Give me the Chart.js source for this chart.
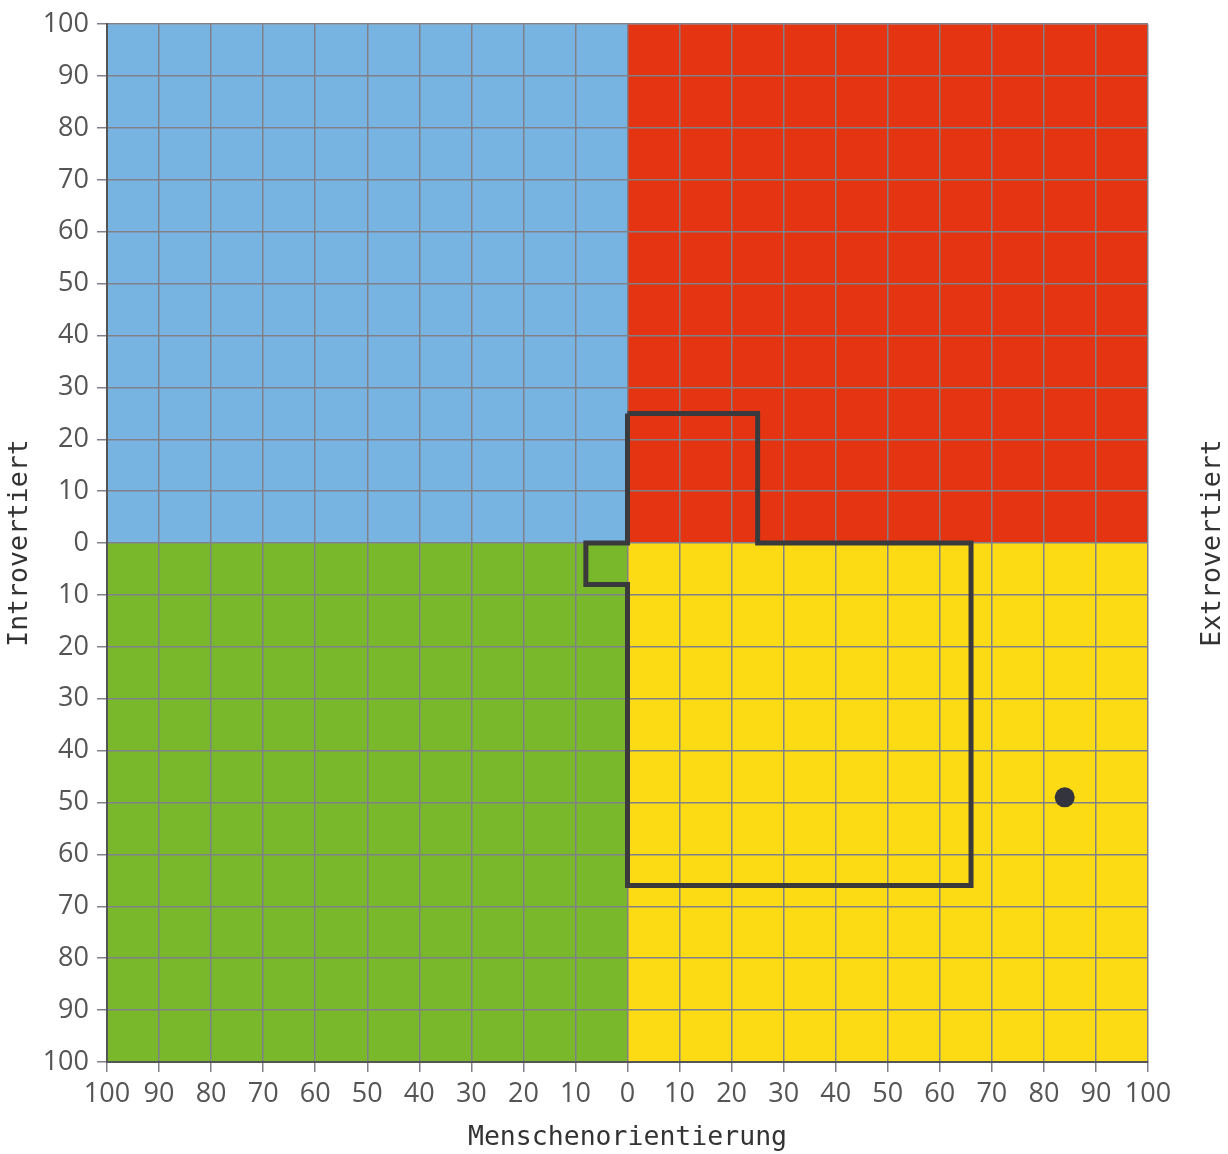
<!DOCTYPE html>
<html>
<head>
<meta charset="utf-8">
<script src="https://cdn.jsdelivr.net/npm/chart.js@4/dist/chart.umd.min.js"></script>
<style>
html,body{margin:0;padding:0;background:#fff;}
#wrap{width:1228px;height:1154px;}
</style>
</head>
<body>
<div id="wrap"><canvas id="c" width="1228" height="1154"></canvas></div>
<script>
// Axis titles
const xTitle = "Menschenorientierung";
const yTitleLeft = "Introvertiert";
const yTitleRight = "Extrovertiert";

// Quadrant backgrounds: x range, y range, colour
const quadX = [[-100, 0], [0, 100], [-100, 0], [0, 100]];
const quadY = [[0, 100], [0, 100], [-100, 0], [-100, 0]];
const quadColors = ["#78b4e2", "#e43412", "#78b82a", "#fddb14"];

// Outline polygon
const shapeX = [0, 25, 25, 66, 66, 0, 0, -8, -8, 0, 0];
const shapeY = [25, 25, 0, 0, -66, -66, -8, -8, 0, 0, 25];

// Single point
const pointX = [84];
const pointY = [-49];

const axisMin = -100, axisMax = 100, axisStep = 10;

const titleFont = "'DejaVu Sans Mono', 'Liberation Mono', monospace";
const tickFont = "'Open Sans', 'Noto Sans', sans-serif";
const tickColor = "#555555";
const gridColor = "#80808a";

const quadPlugin = {
  id: 'quads',
  beforeDraw(chart) {
    const {ctx, scales: {x, y}} = chart;
    ctx.save();
    quadColors.forEach((c, i) => {
      const x0 = x.getPixelForValue(quadX[i][0]);
      const x1 = x.getPixelForValue(quadX[i][1]);
      const y0 = y.getPixelForValue(quadY[i][1]);
      const y1 = y.getPixelForValue(quadY[i][0]);
      ctx.fillStyle = c;
      ctx.fillRect(x0, y0, x1 - x0, y1 - y0);
    });
    ctx.restore();
  },
  afterDraw(chart) {
    const {ctx, chartArea} = chart;
    ctx.save();
    ctx.font = "26.5px " + titleFont;
    ctx.fillStyle = "#333333";
    ctx.textAlign = "center";
    ctx.textBaseline = "middle";
    ctx.translate(1213, (chartArea.top + chartArea.bottom) / 2);
    ctx.rotate(-Math.PI / 2);
    ctx.fillText(yTitleRight, 0, 0);
    ctx.restore();
  }
};

const shapeData = shapeX.map((v, i) => ({x: v, y: shapeY[i]}));
const pointData = pointX.map((v, i) => ({x: v, y: pointY[i]}));

new Chart(document.getElementById('c'), {
  type: 'scatter',
  data: {
    datasets: [
      {
        data: shapeData,
        showLine: true,
        borderColor: '#3a3a3c',
        borderWidth: 5,
        pointRadius: 0,
        fill: false,
        tension: 0,
        borderJoinStyle: 'miter'
      },
      {
        data: pointData,
        pointRadius: 10,
        pointBackgroundColor: '#33343d',
        pointBorderColor: '#33343d',
        borderWidth: 0
      }
    ]
  },
  options: {
    responsive: false,
    animation: false,
    devicePixelRatio: 1,
    layout: {padding: {left: 0, top: 21, right: 80, bottom: 0}},
    plugins: {legend: {display: false}, tooltip: {enabled: false}},
    scales: {
      x: {
        type: 'linear',
        min: axisMin, max: axisMax,
        afterFit(s) { s.height = 92; },
        ticks: {
          stepSize: axisStep,
          autoSkip: false,
          maxRotation: 0,
          padding: 6,
          color: tickColor,
          font: {family: tickFont, size: 27},
          callback: v => String(Math.abs(v))
        },
        grid: {color: gridColor, lineWidth: 1.5, tickLength: 10, drawOnChartArea: true},
        border: {color: '#555', width: 2},
        title: {
          display: true, text: xTitle, color: '#333',
          font: {family: titleFont, size: 26.5},
          padding: {top: 0, bottom: 0}
        }
      },
      y: {
        type: 'linear',
        min: axisMin, max: axisMax,
        afterFit(s) { s.width = 107; },
        ticks: {
          stepSize: axisStep,
          autoSkip: false,
          padding: 8,
          color: tickColor,
          font: {family: tickFont, size: 27},
          callback: v => String(Math.abs(v))
        },
        grid: {color: gridColor, lineWidth: 1.5, tickLength: 10},
        border: {color: '#555', width: 2},
        title: {
          display: true, text: yTitleLeft, color: '#333',
          font: {family: titleFont, size: 26.5},
          padding: {top: 4, bottom: 0}
        }
      }
    }
  },
  plugins: [quadPlugin]
});
</script>
</body>
</html>
